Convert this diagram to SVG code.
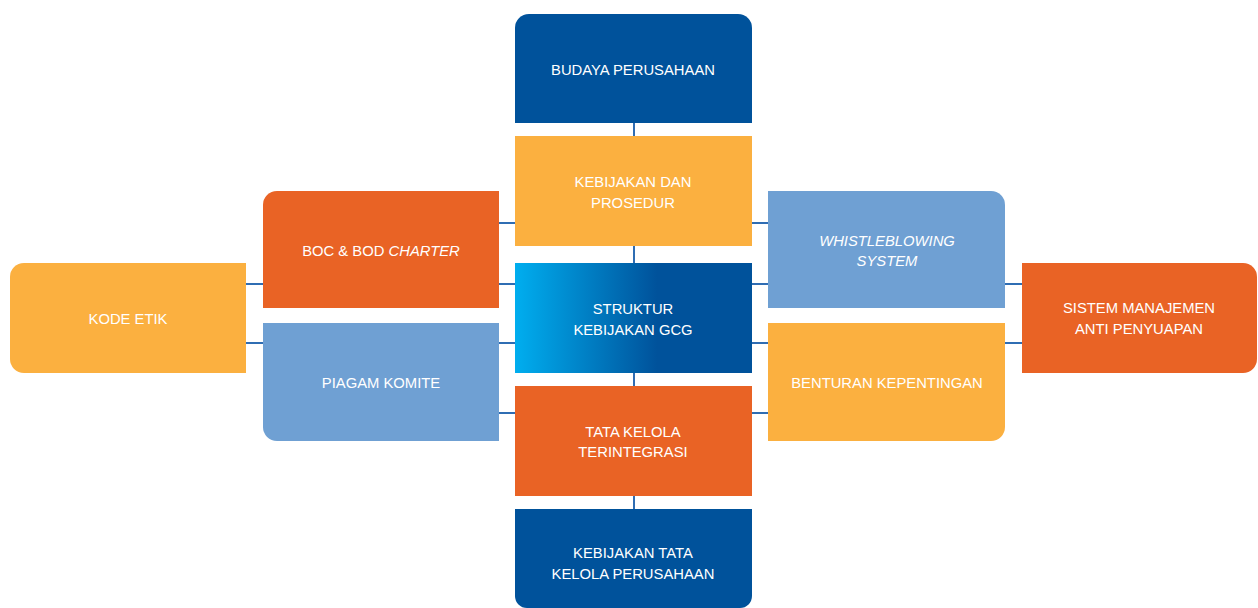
<svg xmlns="http://www.w3.org/2000/svg" width="1258" height="608" viewBox="0 0 1258 608">
<style>
.t{font-family:"Liberation Sans",Arial,sans-serif;font-size:14.8px;fill:#ffffff;text-anchor:middle;dominant-baseline:central}
.i{font-style:italic}
.c{stroke:#2f6db3;stroke-width:2;fill:none}
.db{fill:#00529b}
.og{fill:#fbb040}
.rd{fill:#e96325}
.lb{fill:#6fa0d3}
</style>
<defs>
<linearGradient id="g" x1="0" y1="0" x2="1" y2="0">
<stop offset="0" stop-color="#00aeef"/>
<stop offset="0.6" stop-color="#00529b"/>
<stop offset="1" stop-color="#00529b"/>
</linearGradient>
</defs>
<rect width="1258" height="608" fill="#ffffff"/>
<g id="connectors">
<line class="c" x1="634" y1="123" x2="634" y2="136"/>
<line class="c" x1="634" y1="246" x2="634" y2="263"/>
<line class="c" x1="634" y1="373" x2="634" y2="386"/>
<line class="c" x1="634" y1="496" x2="634" y2="509"/>
<line class="c" x1="246" y1="284" x2="263" y2="284"/>
<line class="c" x1="246" y1="343" x2="263" y2="343"/>
<line class="c" x1="499" y1="223" x2="515" y2="223"/>
<line class="c" x1="499" y1="284" x2="515" y2="284"/>
<line class="c" x1="499" y1="343" x2="515" y2="343"/>
<line class="c" x1="499" y1="413" x2="515" y2="413"/>
<line class="c" x1="752" y1="223" x2="768" y2="223"/>
<line class="c" x1="752" y1="284" x2="768" y2="284"/>
<line class="c" x1="752" y1="343" x2="768" y2="343"/>
<line class="c" x1="752" y1="413" x2="768" y2="413"/>
<line class="c" x1="1005" y1="284" x2="1022" y2="284"/>
<line class="c" x1="1005" y1="343" x2="1022" y2="343"/>
</g>
<g id="budaya">
<path class="db" d="M515 123 V28 A14 14 0 0 1 529 14 H738 A14 14 0 0 1 752 28 V123 Z"/>
<text class="t" x="633" y="70">BUDAYA PERUSAHAAN</text>
</g>
<g id="kebijakan-prosedur">
<rect class="og" x="515" y="136" width="237" height="110"/>
<text class="t" x="633" y="182">KEBIJAKAN DAN</text>
<text class="t" x="633" y="203">PROSEDUR</text>
</g>
<g id="struktur">
<rect x="515" y="263" width="237" height="110" fill="url(#g)"/>
<text class="t" x="633" y="309">STRUKTUR</text>
<text class="t" x="633" y="330">KEBIJAKAN GCG</text>
</g>
<g id="tata-kelola">
<rect class="rd" x="515" y="386" width="237" height="110"/>
<text class="t" x="633" y="432">TATA KELOLA</text>
<text class="t" x="633" y="452">TERINTEGRASI</text>
</g>
<g id="kebijakan-tata-kelola">
<path class="db" d="M515 509 H752 V596 A12 12 0 0 1 740 608 H527 A12 12 0 0 1 515 596 Z"/>
<text class="t" x="633" y="553">KEBIJAKAN TATA</text>
<text class="t" x="633" y="574">KELOLA PERUSAHAAN</text>
</g>
<g id="boc-bod">
<path class="rd" d="M263 308 V205 A14 14 0 0 1 277 191 H499 V308 Z"/>
<text class="t" x="381" y="251">BOC &amp; BOD <tspan class="i">CHARTER</tspan></text>
</g>
<g id="piagam">
<path class="lb" d="M263 323 H499 V441 H277 A14 14 0 0 1 263 427 Z"/>
<text class="t" x="381" y="383">PIAGAM KOMITE</text>
</g>
<g id="kode-etik">
<path class="og" d="M246 263 V373 H24 A14 14 0 0 1 10 359 V277 A14 14 0 0 1 24 263 Z"/>
<text class="t" x="128" y="319">KODE ETIK</text>
</g>
<g id="whistleblowing">
<path class="lb" d="M768 191 H991 A14 14 0 0 1 1005 205 V308 H768 Z"/>
<text class="t i" x="887" y="241">WHISTLEBLOWING</text>
<text class="t i" x="887" y="261">SYSTEM</text>
</g>
<g id="benturan">
<path class="og" d="M768 323 H1005 V427 A14 14 0 0 1 991 441 H768 Z"/>
<text class="t" x="887" y="383">BENTURAN KEPENTINGAN</text>
</g>
<g id="sistem">
<path class="rd" d="M1022 263 H1243 A14 14 0 0 1 1257 277 V359 A14 14 0 0 1 1243 373 H1022 Z"/>
<text class="t" x="1139" y="308">SISTEM MANAJEMEN</text>
<text class="t" x="1139" y="329">ANTI PENYUAPAN</text>
</g>
</svg>
